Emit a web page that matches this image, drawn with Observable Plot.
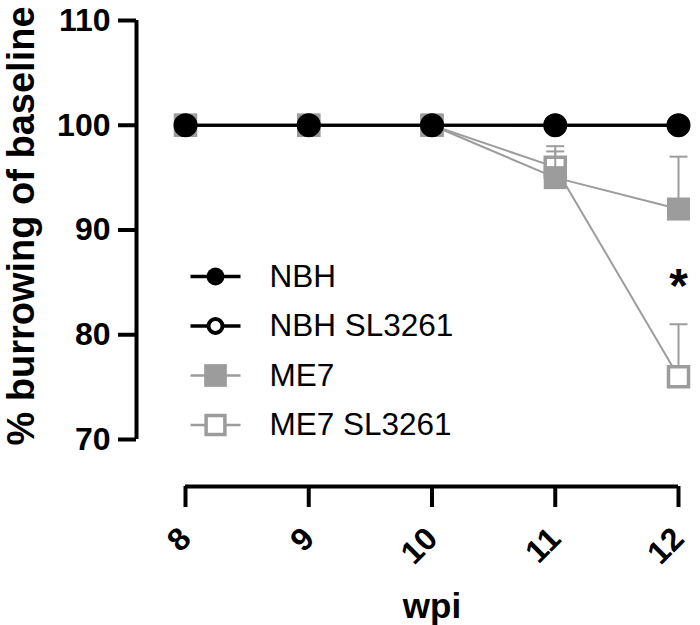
<!DOCTYPE html>
<html><head><meta charset="utf-8">
<script src="https://cdn.jsdelivr.net/npm/d3@7"></script>
<script src="https://cdn.jsdelivr.net/npm/@observablehq/plot@0.6"></script>
<style>
body{margin:0;background:#fff;font-family:"Liberation Sans",Arial,sans-serif}
#chart svg{display:block}
</style>
</head><body><div id="chart"></div>
<script>
// ---- data ----
const weeks = [8, 9, 10, 11, 12];
const seriesNames = ["NBH", "NBH SL3261", "ME7", "ME7 SL3261"];
const nbhValues   = [100, 100, 100, 100, 100];
const nbhSLValues = [100, 100, 100, 100, 100];
const me7Values   = [100, 100, 100, 95, 92];
const me7SLValues = [100, 100, 100, 96, 76];
const nbhErr   = [0, 0, 0, 0, 0];
const nbhSLErr = [0, 0, 0, 0, 0];
const me7Err   = [0, 0, 0, 2.5, 5];
const me7SLErr = [0, 0, 0, 2, 5];
const yTicks = [70, 80, 90, 100, 110];
const xTicks = [8, 9, 10, 11, 12];
const significance = [{wpi: 12, value: 84.6, label: "*"}];
const xLabel = "wpi";
const yLabel = "% burrowing of baseline";

// ---- styles ----
const GREY = "#9c9c9c";
const styles = {
  "NBH":        {color: "#000", symbol: "circle", fill: "#000", r: 11.5, lw: 3, legR: 9},
  "NBH SL3261": {color: "#000", symbol: "circle", fill: "#fff", r: 10, lw: 3, legR: 7},
  "ME7":        {color: GREY, symbol: "square", fill: GREY, r: 13, lw: 2, legR: 12.8},
  "ME7 SL3261": {color: GREY, symbol: "square", fill: "#fff", r: 11.3, lw: 2, legR: 10.6}
};
const valuesBy = {"NBH": nbhValues, "NBH SL3261": nbhSLValues, "ME7": me7Values, "ME7 SL3261": me7SLValues};
const errBy = {"NBH": nbhErr, "NBH SL3261": nbhSLErr, "ME7": me7Err, "ME7 SL3261": me7SLErr};

const rowsFor = name => weeks.map((w, i) => ({series: name, wpi: w, value: valuesBy[name][i], err: errBy[name][i]}));

const capSymbol = {draw(ctx) { ctx.moveTo(-9, 0); ctx.lineTo(9, 0); }};
const legLine = {draw(ctx) { ctx.moveTo(-25, 0); ctx.lineTo(25, 0); }};

// draw order: back to front
const drawOrder = ["ME7 SL3261", "ME7", "NBH SL3261", "NBH"];
const seriesMarks = drawOrder.flatMap(name => {
  const s = styles[name];
  const rows = rowsFor(name);
  const errRows = rows.filter(d => d.err > 0);
  return [
    Plot.line(rows, {x: "wpi", y: "value", stroke: s.color, strokeWidth: s.lw}),
    Plot.ruleX(errRows, {x: "wpi", y1: "value", y2: d => d.value + d.err, stroke: GREY, strokeWidth: 2}),
    Plot.dot(errRows, {x: "wpi", y: d => d.value + d.err, symbol: capSymbol, stroke: GREY, strokeWidth: 2}),
    Plot.dot(rows, {x: "wpi", y: "value", symbol: s.symbol, r: s.r, fill: s.fill,
      stroke: s.fill === "#fff" ? s.color : "none", strokeWidth: s.symbol === "square" ? 3.5 : 4})
  ];
});

const legendTop = 256, legendGap = 49.5;
const legendMarks = seriesNames.flatMap((name, i) => {
  const s = styles[name];
  const dy = legendTop + i * legendGap;
  return [
    Plot.dot([name], {frameAnchor: "top-left", dx: 30, dy, symbol: legLine, stroke: s.color, strokeWidth: s.lw + 0.5}),
    Plot.dot([name], {frameAnchor: "top-left", dx: 30, dy, symbol: s.symbol, r: s.legR, fill: s.fill,
      stroke: s.fill === "#fff" ? s.color : "none", strokeWidth: s.symbol === "square" ? 3.5 : 4}),
    Plot.text([name], {frameAnchor: "top-left", dx: 84, dy, text: d => d, textAnchor: "start",
      lineAnchor: "middle", fontSize: 31.5, fill: "#000"})
  ];
});

const chart = Plot.plot({
  width: 700,
  height: 625,
  marginLeft: 185,
  marginRight: 22,
  marginTop: 20,
  marginBottom: 186,
  style: {fontFamily: "'Liberation Sans', Arial, sans-serif", background: "#fff", color: "#000"},
  x: {domain: [8, 12], axis: null},
  y: {domain: [70, 110], axis: null},
  marks: [
    Plot.ruleX([8], {y1: 70, y2: 110, dx: -49, stroke: "#000", strokeWidth: 4}),
    Plot.ruleY([70], {x1: 8, x2: 12, dy: 47, stroke: "#000", strokeWidth: 4}),
    Plot.axisY({ticks: yTicks, tickSize: 18, tickPadding: 8, dx: -49, strokeWidth: 4, fontSize: 32,
      fontWeight: "bold", label: null, tickFormat: d => String(d)}),
    Plot.axisX({ticks: xTicks, tickSize: 21, tickPadding: 26, dy: 47, strokeWidth: 4, fontSize: 32,
      fontWeight: "bold", label: null, tickRotate: -45, tickFormat: d => String(d)}),
    Plot.text([xLabel], {frameAnchor: "bottom", dy: 167, text: d => d, fontSize: 35, fontWeight: "bold",
      textAnchor: "middle", lineAnchor: "middle"}),
    Plot.text([yLabel], {frameAnchor: "left", dx: -164, dy: -4, rotate: -90, text: d => d, fontSize: 38,
      fontWeight: "bold", textAnchor: "middle", lineAnchor: "middle"}),
    ...seriesMarks,
    Plot.text(significance, {x: "wpi", y: "value", text: "label", fontSize: 48, fontWeight: "bold", fill: "#000", lineAnchor: "middle"}),
    ...legendMarks
  ]
});
document.getElementById("chart").appendChild(chart);
</script>
</body></html>
